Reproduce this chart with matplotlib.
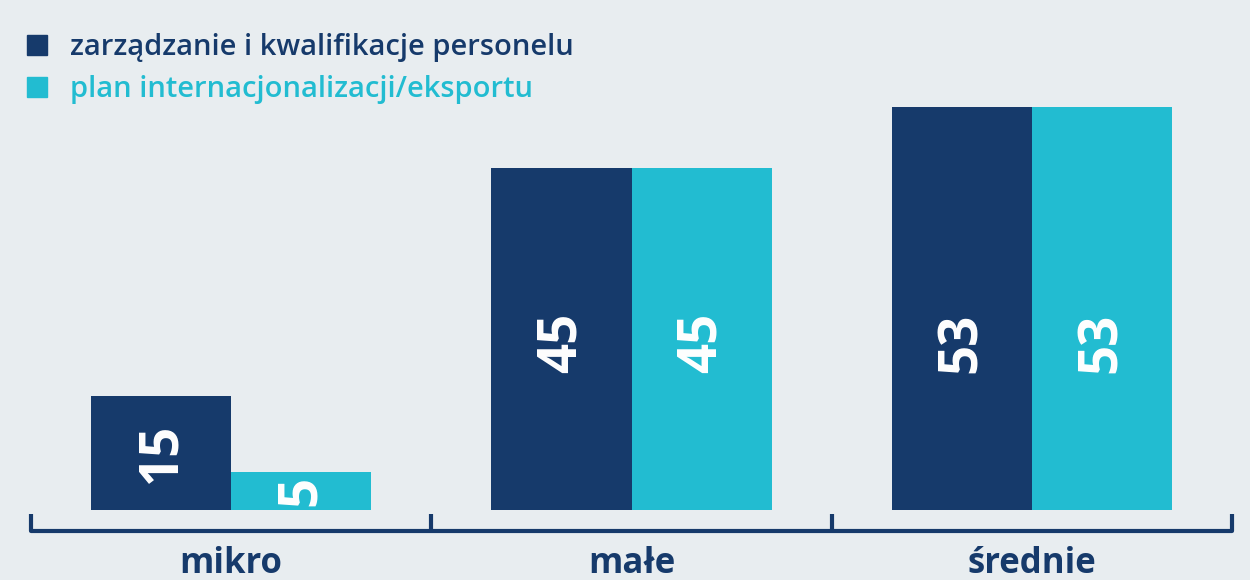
import matplotlib.pyplot as plt
import numpy as np
from matplotlib.patches import Patch

plt.rcParams['font.family'] = ['Open Sans', 'DejaVu Sans']

categories = ['mikro', 'małe', 'średnie']
series_names = ['zarządzanie i kwalifikacje personelu', 'plan internacjonalizacji/eksportu']
zarzadzanie = [15, 45, 53]
eksport = [5, 45, 53]

navy = '#163a6b'
cyan = '#22bcd1'
bg = '#e8edf0'

fig = plt.figure(figsize=(12.5, 5.8), dpi=100, facecolor=bg)
# axes: bottom of bars at y=510px, full width
ax = fig.add_axes([0, 70 / 580, 1, 403 / 580], facecolor=bg)

x = np.arange(len(categories))
w = 0.35
bars1 = ax.bar(x - w / 2, zarzadzanie, w, color=navy)
bars2 = ax.bar(x + w / 2, eksport, w, color=cyan)

ax.set_ylim(0, 53)
ax.set_xlim(-0.577, 2.544)

# rotated white value labels, clipped by their bar
for bars, vals in [(bars1, zarzadzanie), (bars2, eksport)]:
    for b, v in zip(bars, vals):
        t = ax.text(b.get_x() + b.get_width() / 2, min(v / 2, 22), str(v),
                    rotation=90, ha='center', va='center', color='white',
                    fontsize=38, fontweight='bold')
        t.set_clip_path(b)

# bottom axis line with upward ticks
for s in ['top', 'right', 'left']:
    ax.spines[s].set_visible(False)
ax.spines['bottom'].set_position(('outward', 15))
ax.spines['bottom'].set_bounds(-0.5, 2.5)
ax.spines['bottom'].set_color(navy)
ax.spines['bottom'].set_linewidth(3)
ax.spines['bottom'].set_capstyle('round')
ax.set_yticks([])
ax.set_xticks(x)
ax.set_xticklabels(categories, fontsize=25, fontweight='bold', color=navy)
ax.tick_params(axis='x', which='major', length=0, pad=11)
ax.set_xticks([-0.5, 0.5, 1.5, 2.5], minor=True)
ax.tick_params(axis='x', which='minor', direction='in', length=12, width=3, color=navy)

handles = [Patch(color=navy), Patch(color=cyan)]
leg = fig.legend(handles, series_names, loc='upper left',
                 bbox_to_anchor=(27 / 1250, 1 - 33 / 580), frameon=False,
                 borderpad=0, borderaxespad=0,
                 handlelength=0.69, handleheight=0.69,
                 handletextpad=0.79, labelspacing=0.45,
                 labelcolor=[navy, cyan], prop={'weight': 'semibold', 'size': 21})

fig.savefig('out.png', dpi=100, facecolor=bg)
